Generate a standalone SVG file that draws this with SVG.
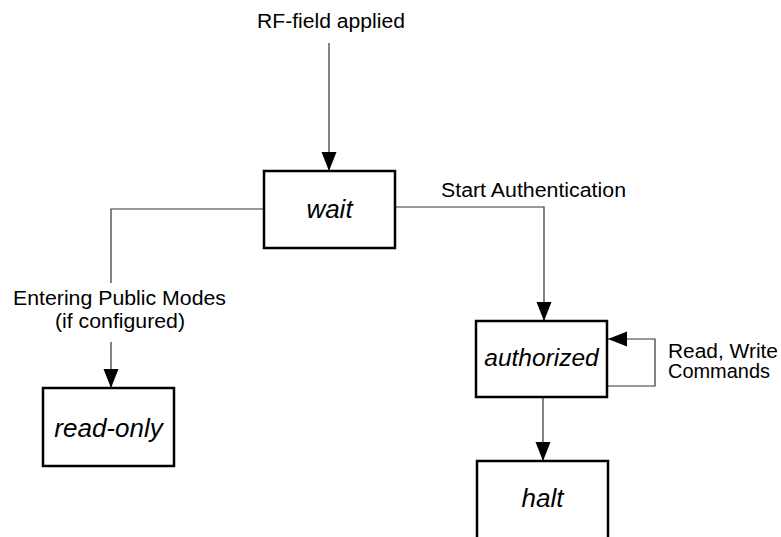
<svg xmlns="http://www.w3.org/2000/svg" width="781" height="537" viewBox="0 0 781 537">
<style>
.box{fill:#fff;stroke:#000;stroke-width:2.5}
.st{font-family:"Liberation Sans",Arial,sans-serif;font-style:italic;font-size:26px;fill:#000;text-anchor:middle}
.lb{font-family:"Liberation Sans",Arial,sans-serif;font-size:20px;fill:#000}
.cn{fill:none;stroke:#333;stroke-width:1.2}
</style>
<defs>
<marker id="ah" markerUnits="userSpaceOnUse" markerWidth="20" markerHeight="16" refX="19" refY="7.5" orient="auto">
<path d="M0,0 L19,7.5 L0,15 z" fill="#000"/>
</marker>
</defs>
<rect width="781" height="537" fill="#fff"/>
<g id="connectors">
<path class="cn" d="M329,43 V171" marker-end="url(#ah)"/>
<path class="cn" d="M264,209 H111 V283"/>
<path class="cn" d="M111,342 V388" marker-end="url(#ah)"/>
<path class="cn" d="M395,207 H544 V321" marker-end="url(#ah)"/>
<path class="cn" d="M608,386 H655 V339 H608" marker-end="url(#ah)"/>
<path class="cn" d="M543,397 V461" marker-end="url(#ah)"/>
</g>
<g id="labels">
<text class="lb" x="331" y="28" text-anchor="middle" textLength="148" lengthAdjust="spacingAndGlyphs">RF-field applied</text>
<text class="lb" x="441" y="197" textLength="185" lengthAdjust="spacingAndGlyphs">Start Authentication</text>
<text class="lb" x="13" y="305" textLength="213" lengthAdjust="spacingAndGlyphs">Entering Public Modes</text>
<text class="lb" x="55" y="328" textLength="130" lengthAdjust="spacingAndGlyphs">(if configured)</text>
<text class="lb" x="668" y="358" textLength="110" lengthAdjust="spacingAndGlyphs">Read, Write</text>
<text class="lb" x="668" y="378" textLength="102" lengthAdjust="spacingAndGlyphs">Commands</text>
</g>
<g id="wait">
<rect class="box" x="264" y="171" width="131" height="77"/>
<text class="st" x="329.5" y="218">wait</text>
</g>
<g id="read-only">
<rect class="box" x="43" y="388" width="131" height="78"/>
<text class="st" x="108.5" y="437">read-only</text>
</g>
<g id="authorized">
<rect class="box" x="476" y="321" width="131" height="76"/>
<text class="st" x="541.5" y="366" style="font-size:24.5px">authorized</text>
</g>
<g id="halt">
<rect class="box" x="477" y="461" width="131" height="90"/>
<text class="st" x="542.5" y="507">halt</text>
</g>
</svg>
